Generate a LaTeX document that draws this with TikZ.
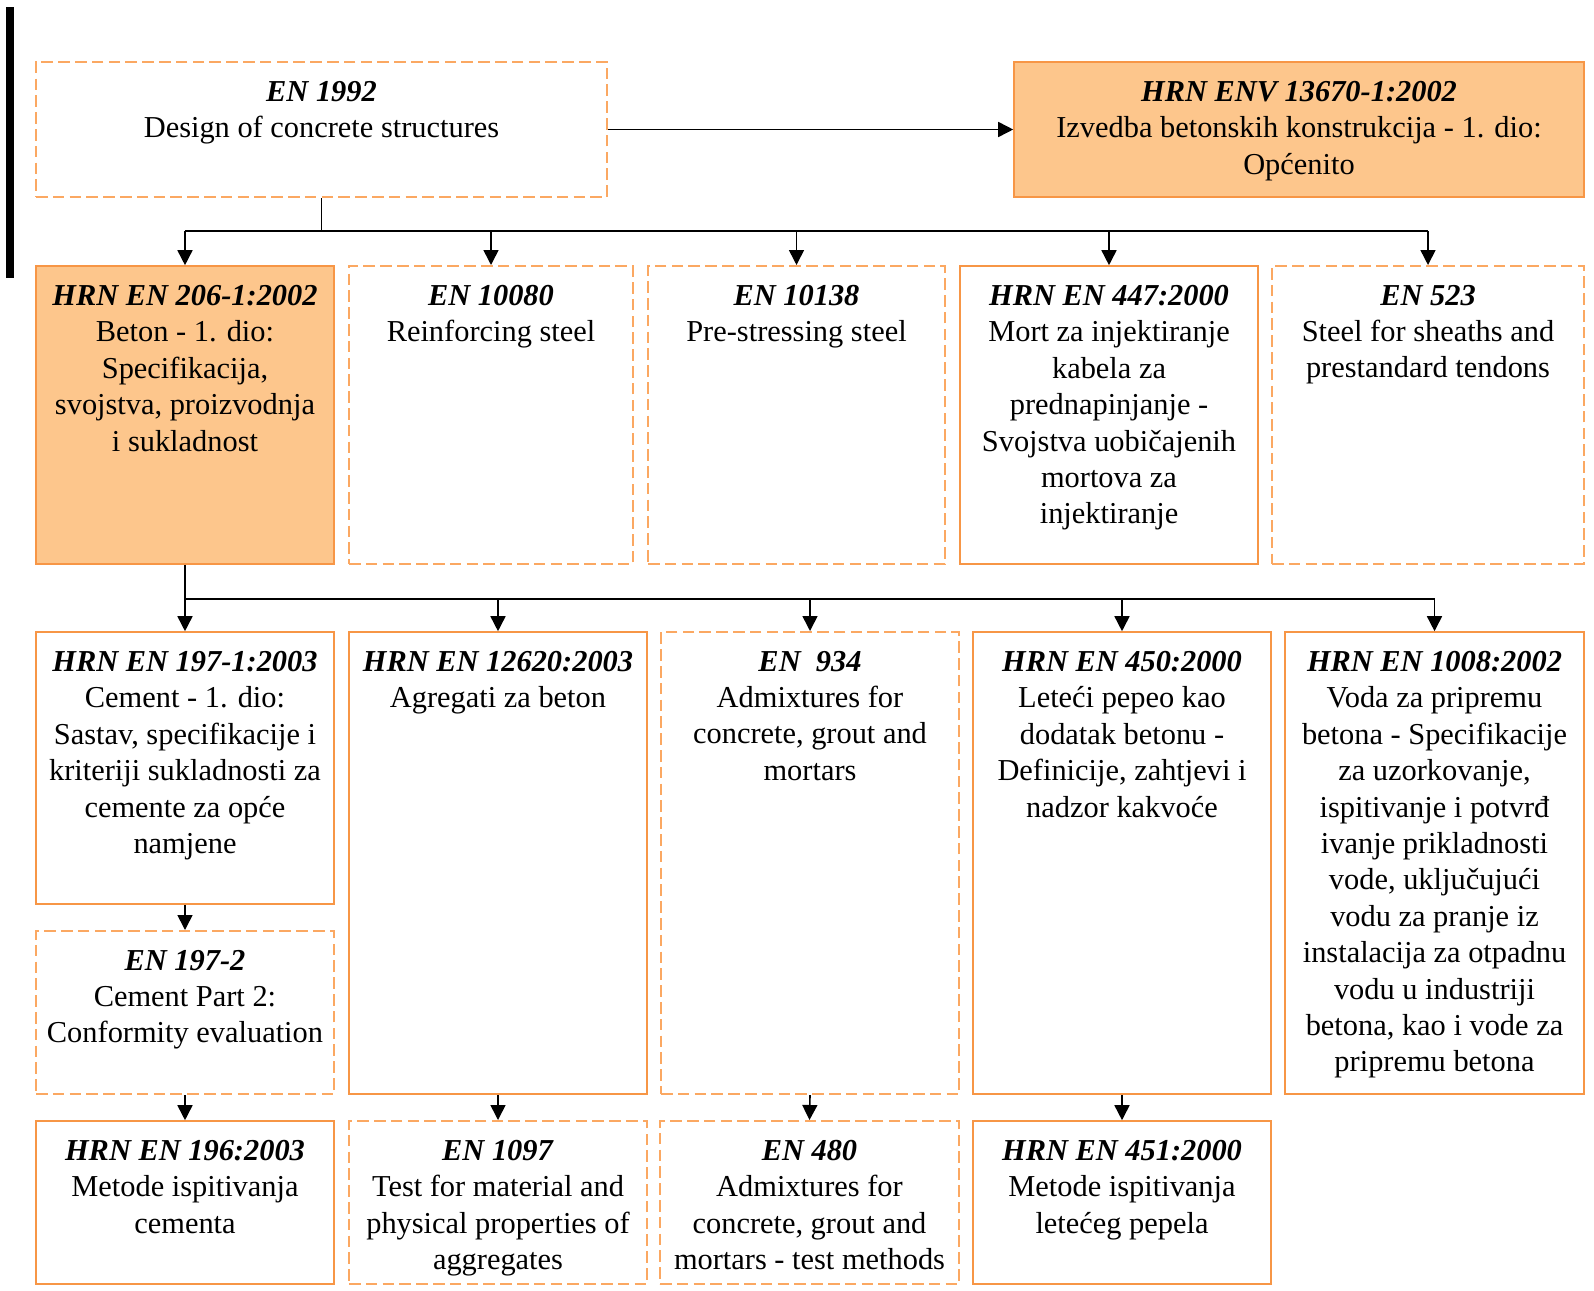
\documentclass[tikz,border=0pt]{standalone}
\usepackage{fontspec}
\setmainfont{Liberation Serif}
\usetikzlibrary{arrows.meta,fit}
\definecolor{boxline}{HTML}{F79646}
\definecolor{dashline}{HTML}{FBA862}
\definecolor{boxfill}{HTML}{FDC68C}
\newcommand{\stdname}[1]{\textbf{\textit{#1}}}

\begin{document}
\begin{tikzpicture}[x=0.5pt, y=-0.5pt,
    box/.style={draw=boxline, line width=0.8pt, inner sep=0pt},
    dashbox/.style={box, draw=dashline, line width=1pt, dash pattern=on 5.8pt off 2.6pt},
    fillbox/.style={box, fill=boxfill},
    txt/.style={anchor=north, align=center, inner sep=0pt, yshift=-9.8pt,
        font=\fontsize{15.2}{18.2}\selectfont},
    link/.style={-{Triangle[length=7.5pt,width=7.5pt]}, line width=0.8pt}]
    \useasboundingbox (0,0) rectangle (1594,1290);
    \fill (6,7) rectangle (14,278);

    % top row
    \node[dashbox, fit={(36,62) (607,197)}] (en1992) {};
    \node[fillbox, fit={(1014,62) (1584,197)}] (env13670) {};

    % second row
    \node[fillbox, fit={(36,266) (334,564)}] (en206) {};
    \node[dashbox, fit={(349,266) (633,564)}] (en10080) {};
    \node[dashbox, fit={(648,266) (945,564)}] (en10138) {};
    \node[box, fit={(960,266) (1258,564)}] (en447) {};
    \node[dashbox, fit={(1272,266) (1584,564)}] (en523) {};

    % third row
    \node[box, fit={(36,632) (334,904)}] (en197a) {};
    \node[dashbox, fit={(36,931) (334,1094)}] (en197b) {};
    \node[box, fit={(349,632) (647,1094)}] (en12620) {};
    \node[dashbox, fit={(661,632) (959,1094)}] (en934) {};
    \node[box, fit={(973,632) (1271,1094)}] (en450) {};
    \node[box, fit={(1285,632) (1584,1094)}] (en1008) {};

    % bottom row
    \node[box, fit={(36,1121) (334,1284)}] (en196) {};
    \node[dashbox, fit={(349,1121) (647,1284)}] (en1097) {};
    \node[dashbox, fit={(660,1121) (959,1284)}] (en480) {};
    \node[box, fit={(973,1121) (1271,1284)}] (en451) {};

    % texts
    \node[txt] (en1992t) at (en1992.north) {\stdname{EN 1992}\\Design of concrete structures};
    \node[txt] (env13670t) at (env13670.north) {\stdname{HRN ENV 13670-1:2002}\\Izvedba betonskih konstrukcija - 1. dio:\\Općenito};
    \node[txt] (en206t) at (en206.north) {\stdname{HRN EN 206-1:2002}\\Beton - 1. dio:\\Specifikacija,\\svojstva, proizvodnja\\i sukladnost};
    \node[txt] (en10080t) at (en10080.north) {\stdname{EN 10080}\\Reinforcing steel};
    \node[txt] (en10138t) at (en10138.north) {\stdname{EN 10138}\\Pre-stressing steel};
    \node[txt] (en447t) at (en447.north) {\stdname{HRN EN 447:2000}\\Mort za injektiranje\\kabela za\\prednapinjanje -\\Svojstva uobičajenih\\mortova za\\injektiranje};
    \node[txt] (en523t) at (en523.north) {\stdname{EN 523}\\Steel for sheaths and\\prestandard tendons};
    \node[txt] (en197at) at (en197a.north) {\stdname{HRN EN 197-1:2003}\\Cement - 1. dio:\\Sastav, specifikacije i\\kriteriji sukladnosti za\\cemente za opće\\namjene};
    \node[txt] (en197bt) at (en197b.north) {\stdname{EN 197-2}\\Cement Part 2:\\Conformity evaluation};
    \node[txt] (en12620t) at (en12620.north) {\stdname{HRN EN 12620:2003}\\Agregati za beton};
    \node[txt] (en934t) at (en934.north) {\stdname{EN\ \ 934}\\Admixtures for\\concrete, grout and\\mortars};
    \node[txt] (en450t) at (en450.north) {\stdname{HRN EN 450:2000}\\Leteći pepeo kao\\dodatak betonu -\\Definicije, zahtjevi i\\nadzor kakvoće};
    \node[txt] (en1008t) at (en1008.north) {\stdname{HRN EN 1008:2002}\\Voda za pripremu\\betona - Specifikacije\\za uzorkovanje,\\ispitivanje i potvrđ\\ivanje prikladnosti\\vode, uključujući\\vodu za pranje iz\\instalacija za otpadnu\\vodu u industriji\\betona, kao i vode za\\pripremu betona};
    \node[txt] (en196t) at (en196.north) {\stdname{HRN EN 196:2003}\\Metode ispitivanja\\cementa};
    \node[txt] (en1097t) at (en1097.north) {\stdname{EN 1097}\\Test for material and\\physical properties of\\aggregates};
    \node[txt] (en480t) at (en480.north) {\stdname{EN 480}\\Admixtures for\\concrete, grout and\\mortars - test methods};
    \node[txt] (en451t) at (en451.north) {\stdname{HRN EN 451:2000}\\Metode ispitivanja\\letećeg pepela};

    % connectors
    \draw[link] (en1992.east) -- (env13670.west);
    \draw[line width=0.8pt] (en1992.south) -- ++(0,33) coordinate (bus1);
    \draw[line width=0.8pt] (bus1 -| en206.north) -- (bus1 -| en523.north);
    \foreach \n in {en206, en10080, en10138, en447, en523}
        \draw[link] (bus1 -| \n.north) -- (\n.north);
    \draw[line width=0.8pt] (en206.south) -- ++(0,34) coordinate (bus2);
    \draw[line width=0.8pt] (bus2) -- (bus2 -| en1008.north);
    \foreach \n in {en197a, en12620, en934, en450, en1008}
        \draw[link] (bus2 -| \n.north) -- (\n.north);
    \foreach \a/\b in {en197a/en197b, en197b/en196, en12620/en1097, en934/en480, en450/en451}
        \draw[link] (\a.south) -- (\b.north);
\end{tikzpicture}
\end{document}
